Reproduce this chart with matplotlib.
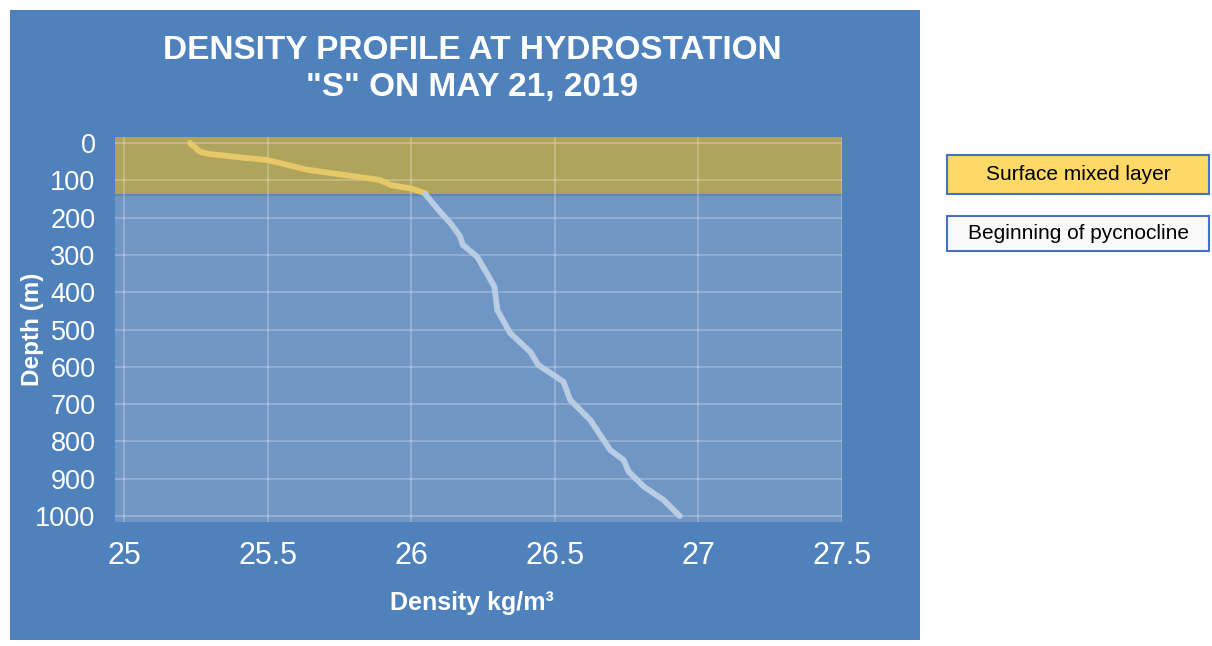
import matplotlib
matplotlib.use("Agg")
import matplotlib.pyplot as plt
from matplotlib.patches import Rectangle

plt.rcParams["font.family"] = ["Liberation Sans", "DejaVu Sans"]

# density profile (depth in m, density in kg/m3)
surface_depth = [0, 24, 30, 46, 72, 99, 113, 122, 135]
surface_density = [25.23, 25.265, 25.30, 25.50, 25.64, 25.89, 25.93, 26.00, 26.05]

pycno_depth = [138, 184, 214, 250, 273, 305, 385, 448, 510, 560, 595, 640,
               689, 743, 823, 850, 881, 921, 957, 1000]
pycno_density = [26.05, 26.10, 26.136, 26.17, 26.18, 26.23, 26.29, 26.30, 26.345,
                 26.415, 26.443, 26.53, 26.554, 26.624, 26.693, 26.74, 26.757,
                 26.81, 26.879, 26.935]

mixed_layer_bottom = 138
x_ticks = [25, 25.5, 26, 26.5, 27, 27.5]
x_tick_labels = ["25", "25.5", "26", "26.5", "27", "27.5"]
y_ticks = list(range(0, 1001, 100))

title = 'DENSITY PROFILE AT HYDROSTATION\n"S" ON MAY 21, 2019'
legend_labels = ["Surface mixed layer", "Beginning of pycnocline"]

W, H = 1212, 646
fig = plt.figure(figsize=(W / 100, H / 100), dpi=100)
fig.patch.set_facecolor("white")

# blue chart panel
fig.patches.append(Rectangle((10 / W, 1 - 640 / H), 910 / W, 630 / H,
                             transform=fig.transFigure, facecolor="#4F81BD",
                             edgecolor="none", zorder=0))

ax = fig.add_axes([115 / W, 1 - 522 / H, 727 / W, 385 / H], zorder=2)
ax.set_facecolor("#7096C5")
ax.set_xlim(24.969, 27.5)
ax.set_ylim(1016, -16)

ax.axhspan(-16, mixed_layer_bottom, color="#AFA45C", zorder=0.2, lw=0)
ax.axhline(mixed_layer_bottom + 1.5, color="#5A86BE", lw=1.5, zorder=0.3)

ax.set_axisbelow(True)
ax.grid(True, color="white", alpha=0.28, lw=1.2)

ax.plot(surface_density, surface_depth, color="#E6C868", lw=4.2,
        solid_capstyle="round", solid_joinstyle="round", zorder=3)
ax.plot(pycno_density, pycno_depth, color="#B8CCE4", lw=4.2,
        solid_capstyle="round", solid_joinstyle="round", zorder=3)

ax.set_xticks(x_ticks)
ax.set_xticklabels(x_tick_labels)
ax.set_yticks(y_ticks)
ax.tick_params(axis="x", length=0, pad=14, labelsize=22, labelcolor="white")
ax.tick_params(axis="y", length=0, pad=14, labelsize=19.5, labelcolor="white")
for s in ax.spines.values():
    s.set_visible(False)

ax.set_xlabel("Density kg/m³", fontsize=18, fontweight="bold", color="white")
ax.xaxis.set_label_coords(0.491, -0.178)
ax.set_ylabel("Depth (m)", fontsize=17.5, fontweight="bold", color="white")
ax.yaxis.set_label_coords(-0.098, 0.5)

fig.text(472 / W, 1 - 69 / H, title, ha="center", va="center", color="white",
         fontsize=24, fontweight="bold", linespacing=1.25, zorder=3)

# legend boxes on the right
boxes = [(155, 194, "#FFD966"), (216, 251, "#F9F9F9")]
for (top, bottom, fc), label in zip(boxes, legend_labels):
    fig.patches.append(Rectangle((947 / W, 1 - bottom / H), 262 / W, (bottom - top) / H,
                                 transform=fig.transFigure, facecolor=fc,
                                 edgecolor="#4472C4", lw=1.5, zorder=1))
    fig.text(1078 / W, 1 - (top + bottom) / 2 / H, label, ha="center", va="center",
             fontsize=15, color="black", zorder=3)

fig.savefig("out.png", dpi=100)
